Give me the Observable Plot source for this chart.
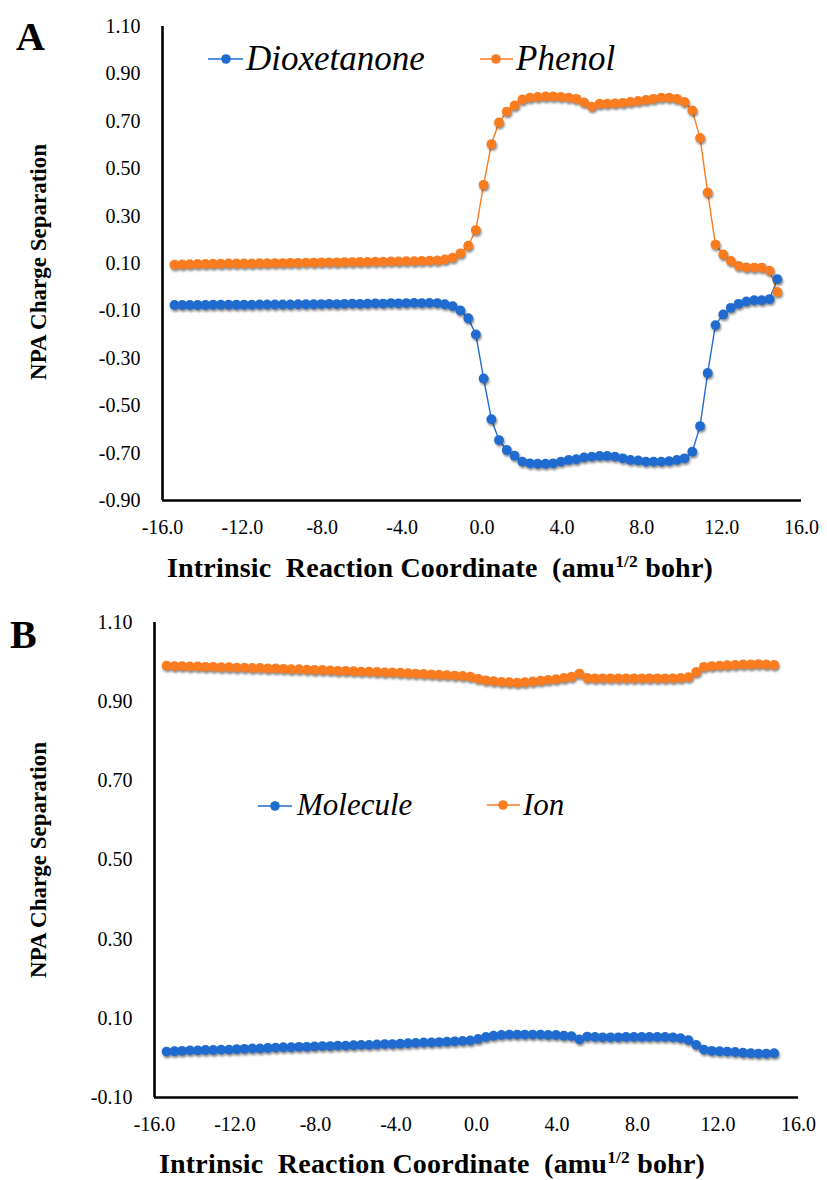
<!DOCTYPE html>
<html><head><meta charset="utf-8">
<script src="https://cdn.jsdelivr.net/npm/d3@7"></script>
<script src="https://cdn.jsdelivr.net/npm/@observablehq/plot@0.6"></script>
<style>
body{margin:0;background:#fff;}
#wrap{position:relative;width:827px;height:1180px;font-family:"Liberation Serif","Times New Roman",serif;color:#000;overflow:hidden;}
.panel{position:absolute;left:0;}
.panel svg text{font-family:"Liberation Serif","Times New Roman",serif;}
.lbl{position:absolute;white-space:nowrap;line-height:1;}
.letter{font-weight:bold;font-size:40px;}
.ytitle{font-weight:bold;font-size:23px;transform:translate(-50%,-50%) rotate(-90deg);}
.xtitle{font-weight:bold;font-size:28px;letter-spacing:0.2px;transform:translate(-50%,-50%);}
.xtitle sup{font-size:0.62em;vertical-align:0.55em;line-height:0;}
.leg{font-style:italic;}
.sw{position:absolute;}
g[aria-label="dot"]{filter:drop-shadow(1px 2px 1.2px rgba(0,0,0,0.45));}
</style>
</head><body>
<div id="wrap"></div>
<script>
// Intrinsic reaction coordinate (amu^1/2 bohr)
const irc = [-15.40,-15.01,-14.63,-14.24,-13.85,-13.47,-13.08,-12.69,-12.30,-11.92,
  -11.53,-11.14,-10.76,-10.37,-9.98,-9.60,-9.21,-8.82,-8.43,-8.05,
  -7.66,-7.27,-6.89,-6.50,-6.11,-5.73,-5.34,-4.95,-4.56,-4.18,
  -3.79,-3.40,-3.02,-2.63,-2.24,-1.86,-1.47,-1.08,-0.69,-0.31,
  0.08,0.47,0.85,1.24,1.63,2.02,2.40,2.79,3.18,3.56,
  3.95,4.34,4.72,5.11,5.50,5.89,6.27,6.66,7.05,7.43,
  7.82,8.21,8.59,8.98,9.37,9.76,10.14,10.53,10.92,11.30,
  11.69,12.08,12.46,12.85,13.24,13.63,14.01,14.40,14.79];

// Panel A
const dioxetanone = [-0.075,-0.075,-0.075,-0.075,-0.075,-0.074,-0.074,-0.074,-0.074,-0.074,
  -0.074,-0.073,-0.073,-0.073,-0.073,-0.073,-0.072,-0.072,-0.072,-0.071,
  -0.070,-0.071,-0.070,-0.069,-0.070,-0.069,-0.068,-0.069,-0.067,-0.068,
  -0.067,-0.066,-0.067,-0.066,-0.067,-0.072,-0.080,-0.098,-0.131,-0.199,
  -0.385,-0.557,-0.645,-0.687,-0.711,-0.736,-0.743,-0.745,-0.745,-0.743,
  -0.736,-0.729,-0.726,-0.718,-0.715,-0.712,-0.712,-0.715,-0.722,-0.729,
  -0.731,-0.736,-0.736,-0.736,-0.734,-0.729,-0.722,-0.694,-0.586,-0.362,
  -0.160,-0.115,-0.087,-0.070,-0.060,-0.055,-0.055,-0.050,0.034];
const phenol = [0.095,0.096,0.097,0.098,0.098,0.099,0.099,0.100,0.100,0.100,
  0.100,0.101,0.101,0.102,0.102,0.103,0.103,0.104,0.104,0.105,
  0.105,0.105,0.106,0.106,0.107,0.107,0.108,0.108,0.109,0.109,
  0.110,0.110,0.111,0.112,0.113,0.117,0.125,0.143,0.175,0.241,
  0.432,0.604,0.695,0.741,0.767,0.792,0.800,0.803,0.805,0.805,
  0.803,0.800,0.795,0.780,0.762,0.774,0.775,0.776,0.778,0.782,
  0.786,0.790,0.795,0.800,0.800,0.795,0.782,0.746,0.630,0.400,
  0.180,0.138,0.111,0.090,0.084,0.083,0.083,0.070,-0.020];

// Panel B
const molecule = [0.016,0.017,0.018,0.019,0.019,0.020,0.020,0.021,0.021,0.022,
  0.023,0.024,0.024,0.025,0.026,0.027,0.027,0.028,0.028,0.029,
  0.030,0.030,0.031,0.031,0.032,0.033,0.033,0.034,0.035,0.035,
  0.036,0.037,0.038,0.039,0.039,0.040,0.041,0.042,0.043,0.044,
  0.048,0.053,0.056,0.058,0.059,0.059,0.059,0.059,0.059,0.058,
  0.058,0.056,0.055,0.047,0.054,0.053,0.052,0.052,0.052,0.053,
  0.053,0.053,0.053,0.053,0.053,0.052,0.050,0.045,0.033,0.021,
  0.018,0.017,0.016,0.015,0.013,0.012,0.011,0.011,0.012];
const ion = [0.991,0.990,0.990,0.989,0.989,0.988,0.988,0.987,0.987,0.986,
  0.986,0.985,0.985,0.984,0.984,0.983,0.982,0.982,0.981,0.980,
  0.980,0.979,0.978,0.978,0.977,0.976,0.976,0.975,0.974,0.974,
  0.973,0.972,0.971,0.970,0.969,0.968,0.967,0.966,0.965,0.963,
  0.958,0.954,0.952,0.950,0.949,0.948,0.949,0.951,0.953,0.955,
  0.957,0.960,0.963,0.971,0.960,0.959,0.959,0.959,0.959,0.959,
  0.959,0.959,0.959,0.959,0.959,0.959,0.960,0.962,0.975,0.988,
  0.990,0.991,0.992,0.993,0.994,0.994,0.995,0.994,0.993];

const xTicks = [-16, -12, -8, -4, 0, 4, 8, 12, 16];
const yTicksA = [-0.9, -0.7, -0.5, -0.3, -0.1, 0.1, 0.3, 0.5, 0.7, 0.9, 1.1];
const yTicksB = [-0.1, 0.1, 0.3, 0.5, 0.7, 0.9, 1.1];
const seriesA = ["Dioxetanone", "Phenol"];
const seriesB = ["Molecule", "Ion"];
const BLUE = "#1f6bd0", ORANGE = "#fb7b1f";
const FONT = '"Liberation Serif", "Times New Roman", serif';

function rows(names, arrays) {
  const out = [];
  names.forEach((n, k) => irc.forEach((x, i) => out.push({x, y: arrays[k][i], s: n})));
  return out;
}

function panel({data, names, yDomain, yTicks, height, mt, mb, ml, mr}) {
  const color = {domain: names, range: [BLUE, ORANGE]};
  return Plot.plot({
    width: 827, height,
    marginTop: mt, marginBottom: mb, marginLeft: ml, marginRight: mr,
    style: {fontFamily: FONT, fontSize: "20px", color: "#000", background: "transparent", overflow: "visible"},
    x: {domain: [-16, 16]},
    y: {domain: yDomain},
    color,
    marks: [
      Plot.axisX({ticks: xTicks, tickFormat: d => d.toFixed(1), tickSize: 0, tickPadding: 19, label: null, fontSize: 20, fontFamily: FONT}),
      Plot.axisY({ticks: yTicks, tickFormat: d => d.toFixed(2), tickSize: 0, tickPadding: 22, label: null, fontSize: 20, fontFamily: FONT}),
      Plot.line(data, {x: "x", y: "y", z: "s", stroke: "s", strokeWidth: 1.4}),
      Plot.dot(data, {x: "x", y: "y", fill: "s", r: 4.9, stroke: "none"}),
      Plot.ruleX([-16], {stroke: "#000", strokeWidth: 2.6}),
      Plot.ruleY([yDomain[0]], {stroke: "#000", strokeWidth: 2.6})
    ]
  });
}

const wrap = document.getElementById("wrap");
function place(el, top) {
  const d = document.createElement("div");
  d.className = "panel"; d.style.top = top + "px";
  d.appendChild(el); wrap.appendChild(d);
}
place(panel({data: rows(seriesA, [dioxetanone, phenol]), names: seriesA, yDomain: [-0.9, 1.1], yTicks: yTicksA,
  height: 590, mt: 26, mb: 90, ml: 162, mr: 26}), 0);
place(panel({data: rows(seriesB, [molecule, ion]), names: seriesB, yDomain: [-0.1, 1.1], yTicks: yTicksB,
  height: 590, mt: 32, mb: 83, ml: 154, mr: 29}), 590);

function label(html, cls, left, top) {
  const d = document.createElement("div");
  d.className = "lbl " + cls; d.innerHTML = html;
  d.style.left = left + "px"; d.style.top = top + "px";
  wrap.appendChild(d); return d;
}
label("A", "letter", 16, 17);
label("B", "letter", 10, 615);
label("NPA Charge Separation", "ytitle", 38, 262);
label("NPA Charge Separation", "ytitle", 38, 860);
const xt = "Intrinsic&nbsp; Reaction Coordinate&nbsp; (amu<sup>1/2</sup> bohr)";
label(xt, "xtitle", 440, 568);
label(xt, "xtitle", 432, 1164);

function legendItem(name, color, x0, x1, cx, cy, textLeft, baseline, fs) {
  const svgNS = "http://www.w3.org/2000/svg";
  const s = document.createElementNS(svgNS, "svg");
  s.setAttribute("class", "sw");
  s.setAttribute("width", x1 - x0 + 12); s.setAttribute("height", 16);
  s.style.left = (x0 - 6) + "px"; s.style.top = (cy - 8) + "px";
  s.innerHTML = `<line x1="6" x2="${x1 - x0 + 6}" y1="8" y2="8" stroke="${color}" stroke-width="1.6"/>` +
    `<circle cx="${cx - x0 + 6}" cy="8" r="4.8" fill="${color}"/>`;
  wrap.appendChild(s);
  const t = label(name, "leg", textLeft, baseline - 0.8375 * fs);
  t.style.fontSize = fs + "px";
}
legendItem(seriesA[0], BLUE, 208, 243, 226, 59, 246, 70, 35);
legendItem(seriesA[1], ORANGE, 480, 513, 496, 59, 516, 70, 35);
legendItem(seriesB[0], BLUE, 258, 292, 275, 806, 297, 815, 31);
legendItem(seriesB[1], ORANGE, 487, 520, 503, 805, 523, 815, 31);
</script>
</body></html>
